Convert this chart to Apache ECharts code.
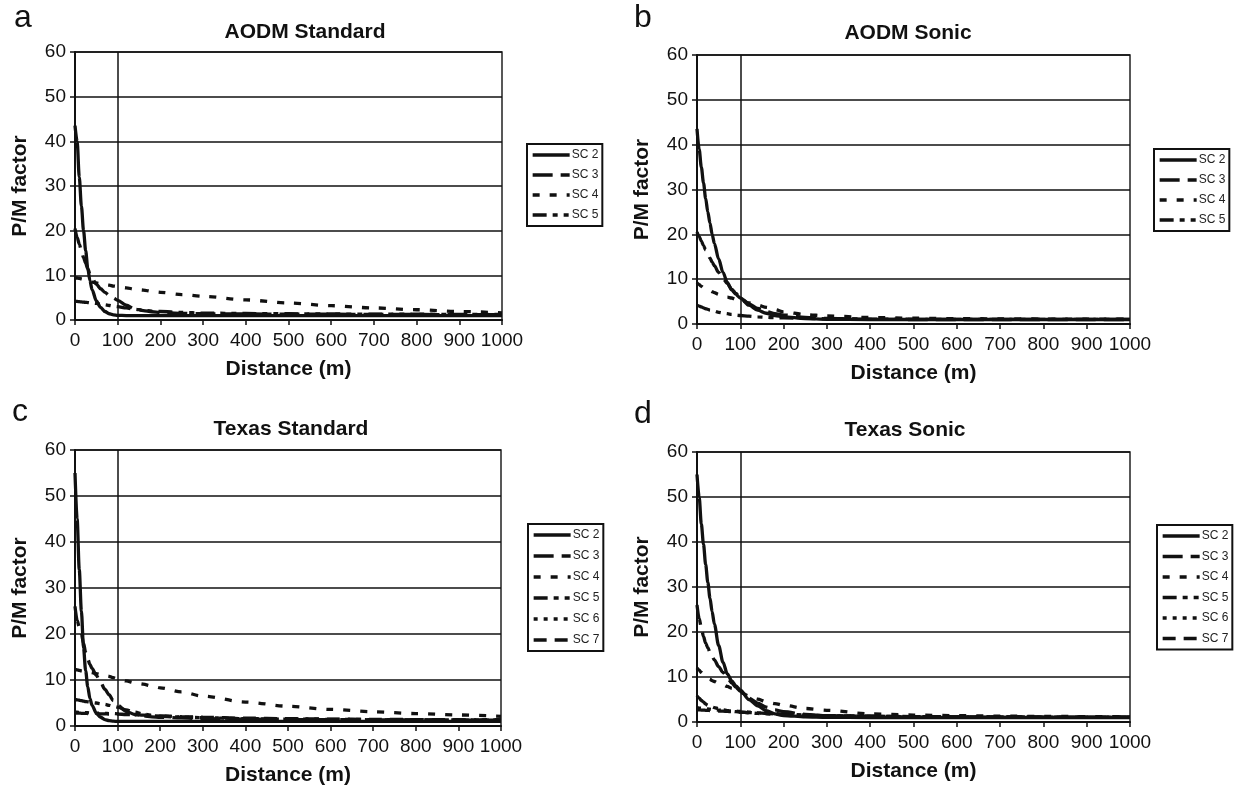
<!DOCTYPE html>
<html>
<head>
<meta charset="utf-8">
<script src="https://cdn.jsdelivr.net/npm/echarts@6/dist/echarts.min.js"></script>
<style>
html,body{margin:0;padding:0;background:#fff;}
#chart{width:1236px;height:788px;}
</style>
</head>
<body>
<div id="chart"></div>
<script>
// Distance (m) sample points shared by all panels
const distance = [0,5,10,15,20,25,30,35,40,50,60,70,80,90,100,120,140,160,180,200,250,300,400,500,600,700,800,900,1000];

const panelTitles = ['AODM Standard', 'AODM Sonic', 'Texas Standard', 'Texas Sonic'];
const panelLetters = ['a', 'b', 'c', 'd'];
const seriesNamesAODM = ['SC 2', 'SC 3', 'SC 4', 'SC 5'];
const seriesNamesTexas = ['SC 2', 'SC 3', 'SC 4', 'SC 5', 'SC 6', 'SC 7'];

// Panel a: AODM Standard
const aSC2 = [43.5,40,32,25.5,20,15.5,11.5,8.8,6.8,4.3,2.8,1.9,1.4,1.15,1.05,1,1,1,1,1,1,1,1,1,1,1,1,1,1];
const aSC3 = [20.5,18.5,17,15.5,14,12.7,11.5,10.3,9.3,8,7,6.2,5.5,4.9,4.4,3.3,2.5,2.1,1.85,1.7,1.5,1.4,1.35,1.3,1.3,1.25,1.25,1.2,1.2];
const aSC4 = [9.5,9.4,9.3,9.2,9.1,9,8.8,8.65,8.5,8.3,8.1,7.9,7.8,7.6,7.5,7.2,6.9,6.7,6.4,6.2,5.7,5.3,4.5,3.8,3.2,2.7,2.3,1.9,1.6];
const aSC5 = [4.2,4.15,4.1,4.05,4,3.95,3.9,3.85,3.8,3.7,3.55,3.4,3.25,3.1,3,2.7,2.4,2.2,2,1.9,1.7,1.55,1.45,1.4,1.35,1.3,1.3,1.25,1.25];

// Panel b: AODM Sonic
const bSC2 = [43.5,39,35,31.5,28,25,22.5,20,18,14.5,11.5,9.3,7.6,6.6,5.8,4.2,3.1,2.4,1.9,1.6,1.2,1.05,1,1,1,1,1,1,1];
const bSC3 = [20.5,19.5,18.5,17.5,16.5,15.6,14.7,13.8,13,11.5,10.2,9,7.8,6.8,5.9,4.5,3.5,2.8,2.3,2,1.5,1.25,1.05,1,1,1,1,1,1];
const bSC4 = [9.2,8.8,8.4,8.1,7.8,7.6,7.4,7.2,7,6.6,6.3,6,5.8,5.5,5.3,4.7,4.2,3.7,3.2,2.7,2.1,1.8,1.45,1.3,1.2,1.15,1.1,1.1,1.1];
const bSC5 = [4.2,4,3.8,3.6,3.4,3.25,3.1,2.95,2.85,2.6,2.45,2.3,2.15,2,1.9,1.75,1.6,1.5,1.4,1.35,1.25,1.15,1.1,1.05,1.05,1.05,1.05,1.05,1.05];

// Panel c: Texas Standard
const cSC2 = [55,45,34,25,17,12,8.5,6,4.5,2.8,1.9,1.4,1.15,1.05,1,1,1,1,1,1,1,1,1,1,1,1,1,1,1];
const cSC3 = [26,23,21.5,20,18,16,14.5,13.4,12.5,11,9.5,8,6.8,5.5,4.5,3.2,2.5,2.2,2,1.9,1.75,1.6,1.5,1.4,1.4,1.35,1.3,1.3,1.25];
const cSC4 = [12.3,12.2,12.1,12,11.95,11.9,11.8,11.7,11.6,11.4,11.2,11,10.8,10.5,10.2,9.8,9.4,9.1,8.7,8.3,7.4,6.5,5.2,4.3,3.6,3.1,2.7,2.4,2.1];
const cSC5 = [5.8,5.7,5.6,5.5,5.4,5.3,5.25,5.2,5.1,5,4.85,4.7,4.5,4.3,4.1,3.5,3,2.6,2.3,2.1,1.9,1.8,1.6,1.5,1.45,1.4,1.35,1.3,1.3];
const cSC6 = [3,3,2.95,2.95,2.9,2.9,2.9,2.85,2.85,2.8,2.8,2.75,2.7,2.7,2.65,2.55,2.45,2.35,2.25,2.15,1.95,1.8,1.6,1.5,1.4,1.35,1.3,1.3,1.25];
const cSC7 = [2.8,2.8,2.8,2.75,2.75,2.75,2.7,2.7,2.7,2.7,2.65,2.65,2.6,2.6,2.6,2.5,2.45,2.35,2.3,2.2,2.05,1.9,1.7,1.6,1.5,1.45,1.4,1.35,1.3];

// Panel d: Texas Sonic
const dSC2 = [55,50,44,39.5,35,31,27.5,24.5,21.8,17,13.3,10.7,9.2,8,7.1,5,3.6,2.5,1.8,1.45,1.15,1.05,1,1,1,1,1,1,1];
const dSC3 = [26,23,21,19,17.5,16.5,15.5,14.6,13.8,12.3,11,9.8,8.7,7.7,6.8,5.3,4.2,3.3,2.7,2.3,1.7,1.4,1.2,1.1,1.1,1.05,1.05,1.05,1.05];
const dSC4 = [12,11.5,11,10.6,10.2,9.8,9.5,9.2,9,8.6,8.3,7.9,7.5,7,6.6,5.8,5.1,4.5,4.1,3.7,3,2.6,1.8,1.55,1.4,1.3,1.25,1.2,1.2];
const dSC5 = [5.8,5.3,4.8,4.4,4,3.7,3.5,3.35,3.2,2.95,2.7,2.55,2.4,2.3,2.2,2.05,1.9,1.8,1.7,1.6,1.5,1.4,1.3,1.2,1.15,1.15,1.1,1.1,1.1];
const dSC6 = [3.2,3.1,3.05,3,2.95,2.9,2.85,2.8,2.75,2.65,2.6,2.5,2.45,2.4,2.35,2.2,2.05,1.95,1.85,1.75,1.55,1.4,1.25,1.2,1.15,1.15,1.1,1.1,1.1];
const dSC7 = [2.7,2.7,2.65,2.65,2.6,2.6,2.55,2.55,2.5,2.45,2.4,2.35,2.3,2.25,2.2,2.1,2,1.9,1.8,1.7,1.55,1.4,1.3,1.2,1.15,1.15,1.1,1.1,1.1];

const panelData = [
  [aSC2, aSC3, aSC4, aSC5],
  [bSC2, bSC3, bSC4, bSC5],
  [cSC2, cSC3, cSC4, cSC5, cSC6, cSC7],
  [dSC2, dSC3, dSC4, dSC5, dSC6, dSC7]
];
const panelNames = [seriesNamesAODM, seriesNamesAODM, seriesNamesTexas, seriesNamesTexas];

// ---- styling / layout ----
const FONT = '"Liberation Sans", Arial, sans-serif';
const INK = '#111';
const dashStyles = {
  'SC 2': 'solid',
  'SC 3': [20, 8],
  'SC 4': [7, 10],
  'SC 5': [14, 6, 5, 6, 5, 6],
  'SC 6': [4, 6],
  'SC 7': [13, 8]
};
const grids = [
  {left: 75, top: 52, width: 427, height: 268},
  {left: 697, top: 55, width: 433, height: 269},
  {left: 75, top: 450, width: 426, height: 276},
  {left: 697, top: 452, width: 433, height: 270}
];
const legendPos = [
  {left: 527, top: 144, itemGap: 8},
  {left: 1154, top: 149, itemGap: 8},
  {left: 528, top: 524, itemGap: 9},
  {left: 1157, top: 525, itemGap: 8.5}
];
const titlePos = [[305, 32], [908, 33], [291, 429], [905, 430]];
const letterPos = [[14, 18], [634, 18], [12, 412], [634, 414]];

const xAxes = [], yAxes = [], series = [], legends = [], graphics = [];
grids.forEach((g, p) => {
  xAxes.push({
    type: 'value', gridIndex: p, min: 0, max: 1000, interval: 100,
    name: 'Distance (m)', nameLocation: 'middle', nameGap: 39,
    nameTextStyle: {fontFamily: FONT, fontWeight: 'bold', fontSize: 21, color: INK},
    axisLine: {show: true, onZero: false, lineStyle: {color: INK, width: 2}},
    axisTick: {show: true, length: 5, lineStyle: {color: INK, width: 1.5}},
    axisLabel: {fontFamily: FONT, fontSize: 19, color: INK, margin: 11, formatter: v => String(v)},
    splitLine: {show: false}
  });
  yAxes.push({
    type: 'value', gridIndex: p, min: 0, max: 60, interval: 10,
    name: 'P/M factor', nameLocation: 'middle', nameGap: 44, nameRotate: 90,
    nameTextStyle: {fontFamily: FONT, fontWeight: 'bold', fontSize: 21, color: INK},
    axisLine: {show: true, lineStyle: {color: INK, width: 2}},
    axisTick: {show: true, length: 5, lineStyle: {color: INK, width: 1.5}},
    axisLabel: {fontFamily: FONT, fontSize: 19, color: INK, margin: 9},
    splitLine: {show: true, lineStyle: {color: INK, width: 1.5}}
  });
  panelNames[p].forEach((nm, k) => {
    const vals = panelData[p][k];
    const s = {
      type: 'line', name: nm, xAxisIndex: p, yAxisIndex: p,
      data: distance.map((x, i) => [x, vals[i]]),
      symbol: 'none', smooth: 0.3, smoothMonotone: 'x',
      lineStyle: {color: INK, width: 3.3, type: dashStyles[nm], cap: 'butt'},
      itemStyle: {color: INK},
      z: 10 - k,
      animation: false
    };
    if (k === 0) {
      s.markLine = {
        silent: true, symbol: 'none', animation: false,
        label: {show: false},
        lineStyle: {color: INK, width: 1.5, type: 'solid'},
        data: [{xAxis: 100}]
      };
    }
    series.push(s);
  });
  legends.push({
    data: panelNames[p].slice(),
    orient: 'vertical',
    left: legendPos[p].left, top: legendPos[p].top,
    itemGap: legendPos[p].itemGap,
    itemWidth: 37, itemHeight: 12,
    padding: [5, 4, 5, 4],
    borderColor: INK, borderWidth: 2, backgroundColor: '#fff',
    selectedMode: false,
    itemStyle: {opacity: 0},
    lineStyle: {width: 3.3},
    textStyle: {fontFamily: FONT, fontSize: 12, color: '#222', padding: [0, 0, 0, -3]}
  });
  graphics.push({
    type: 'text', x: titlePos[p][0], y: titlePos[p][1],
    style: {text: panelTitles[p], font: 'bold 21px ' + FONT, fill: INK,
            textAlign: 'center', textVerticalAlign: 'middle'}
  });
  graphics.push({
    type: 'text', x: letterPos[p][0], y: letterPos[p][1],
    style: {text: panelLetters[p], font: '32px ' + FONT, fill: INK,
            textAlign: 'left', textVerticalAlign: 'middle'}
  });
});

const chart = echarts.init(document.getElementById('chart'), null, {renderer: 'canvas'});
chart.setOption({
  animation: false,
  backgroundColor: '#fff',
  grid: grids.map(g => Object.assign({show: true, borderColor: '#222', borderWidth: 1.5, backgroundColor: 'transparent'}, g)),
  xAxis: xAxes,
  yAxis: yAxes,
  legend: legends,
  series: series,
  graphic: graphics
});
</script>
</body>
</html>
